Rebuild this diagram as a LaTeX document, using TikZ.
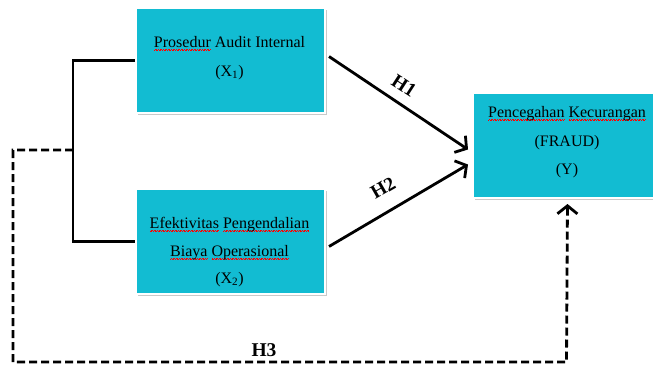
\documentclass[tikz,border=0pt]{standalone}
\usepackage{fontspec}
\setmainfont{Liberation Serif}
\usetikzlibrary{arrows.meta,shadows,calc}
\definecolor{boxcyan}{RGB}{18,188,210}
\newsavebox\sqbox
\newcommand\redsq[1]{\sbox\sqbox{#1}\rlap{\textcolor{red}{\lower3pt\hbox to \wd\sqbox{\xleaders\hbox{\vrule width0.8pt height0.35pt depth0pt\vrule width0.8pt height1.15pt depth-0.8pt}\hfill}}}\usebox\sqbox}
\begin{document}
\begin{tikzpicture}[x=1pt,y=-1pt,
  varbox/.style={draw=white, line width=2pt, fill=boxcyan, minimum width=189pt, minimum height=105pt, inner sep=0pt, anchor=north west,
    drop shadow={shadow xshift=1.5pt, shadow yshift=-2pt, fill=black!35, opacity=0.6}},
  txt/.style={font=\fontsize{16}{18}\selectfont, anchor=base, inner sep=0pt},
  conn/.style={line width=2.8pt},
  dconn/.style={line width=2.8pt, dash pattern=on 8pt off 4pt},
  tipb/.style={-{Straight Barb[length=8pt,width=20pt,line width=2.8pt]}},
  hlab/.style={font=\fontsize{19.5}{21}\selectfont\bfseries, inner sep=0pt}]
\useasboundingbox (0,0) rectangle (653,367);
\fill[white] (0,0) rectangle (653,367);

% boxes
\node[varbox] (x1) at (135,7) {};
\node[varbox] (x2) at (135,188) {};
\node[varbox] (y) at (472,92) {};

% texts
\node[txt] (x1a) at (229.5,47) {\redsq{Prosedur} Audit Internal};
\node[txt] (x1b) at (229.5,76) {(X\textsubscript{1})};
\node[txt] (x2a) at (229.5,228) {\redsq{Efektivitas} \redsq{Pengendalian}};
\node[txt] (x2b) at (229.5,256) {\redsq{Biaya} \redsq{Operasional}};
\node[txt] (x2c) at (229.5,283) {(X\textsubscript{2})};
\node[txt] (ya) at (567,117) {\redsq{Pencegahan} \redsq{Kecurangan}};
\node[txt] (yb) at (567,146) {(FRAUD)};
\node[txt] (yc) at (567,174) {(Y)};

% bracket
\coordinate (brk) at (73,150);
\draw[conn] (x1.west) -| (brk) |- (x2.west);

% H1, H2
\draw[conn,tipb] ($(x1.east)+(3,-4)$) -- ($(y.west)+(-4,4)$);
\draw[conn,tipb] ($(x2.east)+(3,5)$) -- ($(y.west)+(-4,19)$);

% H3 dashed
\coordinate (d1) at (13,150);
\coordinate (d2) at (13,362);
\coordinate (d3) at (566.5,362);
\draw[dconn,tipb,shorten >=5pt] (brk) -- (d1) -- (d2) -- (d3) -- (y.south);

% labels
\node[hlab, rotate=-33] (h1) at (404,86) {H1};
\node[hlab, rotate=30] (h2) at (383,188) {H2};
\node[hlab] (h3) at (264,350) {H3};
\end{tikzpicture}
\end{document}
